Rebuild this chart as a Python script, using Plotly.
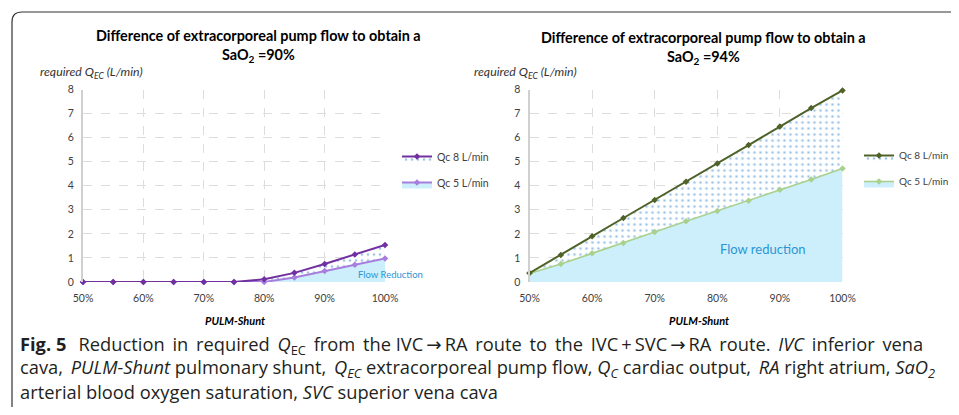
import plotly.graph_objs as go

# ---------------- data ----------------
shunt = [0.50, 0.55, 0.60, 0.65, 0.70, 0.75, 0.80, 0.85, 0.90, 0.95, 1.00]

sao2_90_qc8 = [0, 0, 0, 0, 0, 0, 0.11, 0.38, 0.75, 1.14, 1.54]
sao2_90_qc5 = [0, 0, 0, 0, 0, 0, 0, 0.19, 0.46, 0.72, 0.98]

sao2_94_qc8 = [0.37, 1.12, 1.90, 2.66, 3.41, 4.17, 4.92, 5.69, 6.46, 7.23, 7.96]
sao2_94_qc5 = [0.35, 0.75, 1.19, 1.62, 2.08, 2.52, 2.95, 3.38, 3.83, 4.26, 4.72]

x_tick_vals = [0.5, 0.6, 0.7, 0.8, 0.9, 1.0]
x_tick_text = ["50%", "60%", "70%", "80%", "90%", "100%"]
y_tick_vals = [0, 1, 2, 3, 4, 5, 6, 7, 8]

# page body has an 8px margin, so the figure is made 16px smaller and
# every position below is given in window pixels, then shifted by 8
OFF = 8
W, H = 959 - 2 * OFF, 415 - 2 * OFF
FONT = "Lato"
BLUE_FILL = "#CDEFFB"
DOT = dict(shape=".", fgcolor="#3C86C8", bgcolor="white", size=6, solidity=0.16)


def px_x(v):
    return (v - OFF) / W


def px_y(v):
    return 1 - (v - OFF) / H


def pair(xa, ya, low, high, c_low, c_high, leg, lw_low):
    t_low = go.Scatter(x=shunt, y=low, name="Qc 5 L/min", mode="lines+markers",
                       xaxis=xa, yaxis=ya, legend=leg, legendgroup=leg + "low",
                       legendrank=2, cliponaxis=False,
                       line={"color": c_low, "width": lw_low},
                       marker={"symbol": "diamond", "size": 5, "color": c_low},
                       fill="tozeroy", fillcolor=BLUE_FILL)
    t_high = go.Scatter(x=shunt, y=high, name="Qc 8 L/min", mode="lines+markers",
                        xaxis=xa, yaxis=ya, legend=leg, legendgroup=leg + "high",
                        legendrank=1, cliponaxis=False,
                        line={"color": c_high, "width": 2},
                        marker={"symbol": "diamond", "size": 5, "color": c_high},
                        fill="tonexty", fillcolor="white", fillpattern=DOT)
    return [t_low, t_high]


traces = pair("x", "y", sao2_90_qc5, sao2_90_qc8, "#A77EDD", "#7030A0", "legend", 2) \
    + pair("x2", "y2", sao2_94_qc5, sao2_94_qc8, "#A9D18E", "#4F6228", "legend2", 1.6)

fig = go.Figure(traces)

xcommon = dict(range=[0.5, 1.0], tickvals=x_tick_vals, ticktext=x_tick_text,
               showgrid=True, gridcolor="#DDDDDD", griddash="dash", gridwidth=1,
               zeroline=False, showline=False, ticks="", ticklabelstandoff=8,
               automargin=False,
               tickfont={"family": FONT, "size": 10.5, "color": "#404040"})
ycommon = dict(range=[0, 8], tickvals=y_tick_vals, domain=[px_y(282), px_y(89.5)],
               showgrid=True, gridcolor="#DDDDDD", griddash="dash", gridwidth=1,
               zeroline=False, showline=True, linecolor="#D0D0D0", linewidth=2,
               ticks="", ticklabelstandoff=5, automargin=False,
               tickfont={"family": FONT, "size": 10.5, "color": "#404040"})


def legend_at(x, y, size):
    return {"x": px_x(x), "y": px_y(y), "xanchor": "left", "yanchor": "top",
            "bgcolor": "rgba(0,0,0,0)", "borderwidth": 0, "itemwidth": 30,
            "traceorder": "grouped", "tracegroupgap": 7,
            "font": {"family": FONT, "size": size, "color": "#404040"}}


def note(text, x, y, size, color="black", xanchor="center", family=FONT, **kw):
    return dict(text=text, x=px_x(x), y=px_y(y), xref="paper", yref="paper",
                xanchor=xanchor, yanchor="middle", showarrow=False,
                font={"family": family, "size": size, "color": color}, **kw)


cap_font = "Open Sans"
ARROW = "\u2009<span style='font-family:DejaVu Sans'>\u2192</span>\u2009"
# caption is justified in the reference: some word gaps get a
# six-per-em space added (written as " ~")
line1 = ("<b>Fig. 5</b>\u2002~Reduction ~in ~required ~<i>Q</i><sub>EC</sub> ~from ~the "
         "IVC" + ARROW + "RA ~route ~to ~the ~IVC\u2009+\u2009SVC" + ARROW + "RA "
         "~route. ~<i>IVC</i> ~inferior ~vena").replace("~", "\u2006")
line2 = ("cava, ~<i>PULM-Shunt</i> pulmonary shunt, ~<i>Q<sub>EC</sub></i> extracorporeal pump flow, "
         "<i>Q<sub>C</sub></i> cardiac output, ~<i>RA</i> right atrium, <i>SaO<sub>2</sub></i>").replace("~", "\u2006")
caption_lines = [
    line1,
    line2,
    "arterial blood oxygen saturation, <i>SVC</i> superior vena cava",
]
caption_y = [345, 368, 391]

annotations = [
    note("<b>Difference of extracorporeal pump flow to obtain a<br>SaO<sub>2</sub> =90%</b>", 258, 46, 14.4),
    note("<b>Difference of extracorporeal pump flow to obtain a<br>SaO<sub>2</sub> =94%</b>", 703, 48, 14.4),
    note("<i>required Q<sub>EC</sub> (L/min)</i>", 38, 72, 12.3, "#333333", xanchor="left"),
    note("<i>required Q<sub>EC</sub> (L/min)</i>", 472, 72, 12.3, "#333333", xanchor="left"),
    note("<b><i>PULM-Shunt</i></b>", 235, 320, 11),
    note("<b><i>PULM-Shunt</i></b>", 699, 320, 11),
    note("Flow Reduction", 390, 274, 9.5, "#2B95D6"),
    note("Flow reduction", 763, 249, 13, "#2B95D6"),
] + [note(t, 18, y, 18.3, "#231F20", xanchor="left", family=cap_font)
     for t, y in zip(caption_lines, caption_y)]

frame = dict(type="path", xref="paper", yref="paper",
             path=f"M {px_x(12)},0 L {px_x(12)},{px_y(22)} "
                  f"Q {px_x(12)},{px_y(12)} {px_x(22)},{px_y(12)} L 1,{px_y(12)}",
             line={"color": "#333333", "width": 1.2})

fig.update_layout(
    width=W, height=H, margin={"l": 0, "r": 0, "t": 0, "b": 0, "pad": 0, "autoexpand": False},
    paper_bgcolor="white", plot_bgcolor="white",
    xaxis=dict(xcommon, domain=[px_x(83), px_x(385)], anchor="y"),
    yaxis=dict(ycommon, anchor="x"),
    xaxis2=dict(xcommon, domain=[px_x(529.5), px_x(842.5)], anchor="y2"),
    yaxis2=dict(ycommon, anchor="x2"),
    legend=legend_at(397, 142, 10.5), legend2=legend_at(859, 141, 10),
    annotations=annotations, shapes=[frame],
)

fig.write_html("out.html")
